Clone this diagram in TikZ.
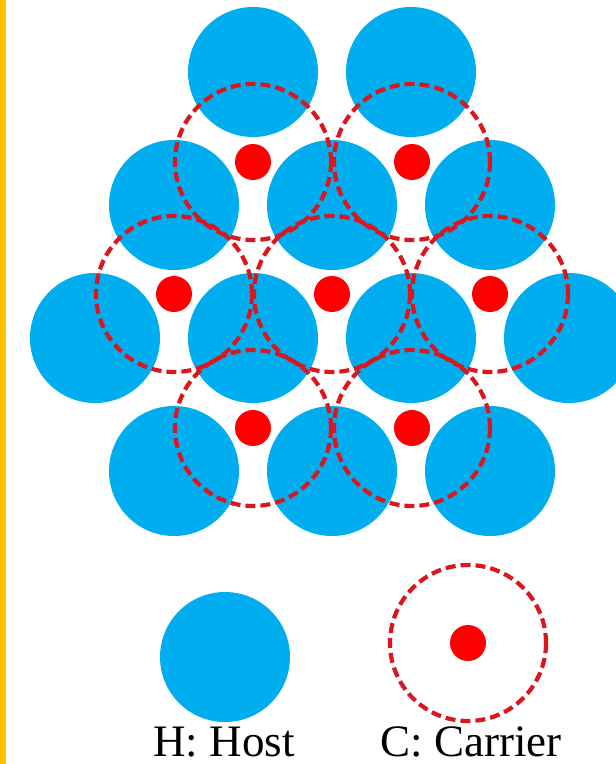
\documentclass[tikz,border=0pt]{standalone}
\usepackage{fontspec}
\setmainfont{Liberation Serif}
\usetikzlibrary{positioning}
\definecolor{hostblue}{HTML}{00AEEF}
\definecolor{dotred}{HTML}{FF0000}
\definecolor{ringred}{HTML}{DA161E}
\definecolor{barorange}{HTML}{FFC000}
\tikzset{
  host/.style={circle,fill=hostblue,inner sep=0pt,minimum size=130pt},
  ring/.style={circle,draw=ringred,line width=4.2pt,dash pattern=on 10pt off 5pt,inner sep=0pt,minimum size=156pt},
  carrier/.style={circle,fill=dotred,inner sep=0pt,minimum size=36pt},
  legend/.style={font=\fontsize{45}{45}\selectfont,inner sep=0pt}
}

\begin{document}
\begin{tikzpicture}[x=1pt,y=-1pt]
  \useasboundingbox (0,0) rectangle (616,764);
  \fill[barorange] (0,0) rectangle (6,764);
  % host lattice, row by row
  \foreach \x [count=\i] in {253,411} \node[host] (h1\i) at (\x,72) {};
  \foreach \x [count=\i] in {174,332,490} \node[host] (h2\i) at (\x,205) {};
  \foreach \x [count=\i] in {95,253,411,569} \node[host] (h3\i) at (\x,338) {};
  \foreach \x [count=\i] in {174,332,490} \node[host] (h4\i) at (\x,471) {};
  % carrier sites
  \foreach \x/\y/\n in {253/162/a1,412/162/a2,174/294/b1,332/294/b2,490/294/b3,253/428/c1,412/428/c2}
    \node[ring] (r\n) at (\x,\y) {};
  \foreach \n in {a1,a2,b1,b2,b3,c1,c2}
    \node[carrier] (c\n) at (r\n) {};
  % legend
  \node[host] (hkey) at (225,657) {};
  \node[ring] (rkey) at (468,643) {};
  \node[carrier] (ckey) at (rkey) {};
  \node[legend, anchor=base] (hlabel) at (224,756) {H: Host};
  \node[legend, anchor=base] (clabel) at (471,756) {C: Carrier};
\end{tikzpicture}
\end{document}
